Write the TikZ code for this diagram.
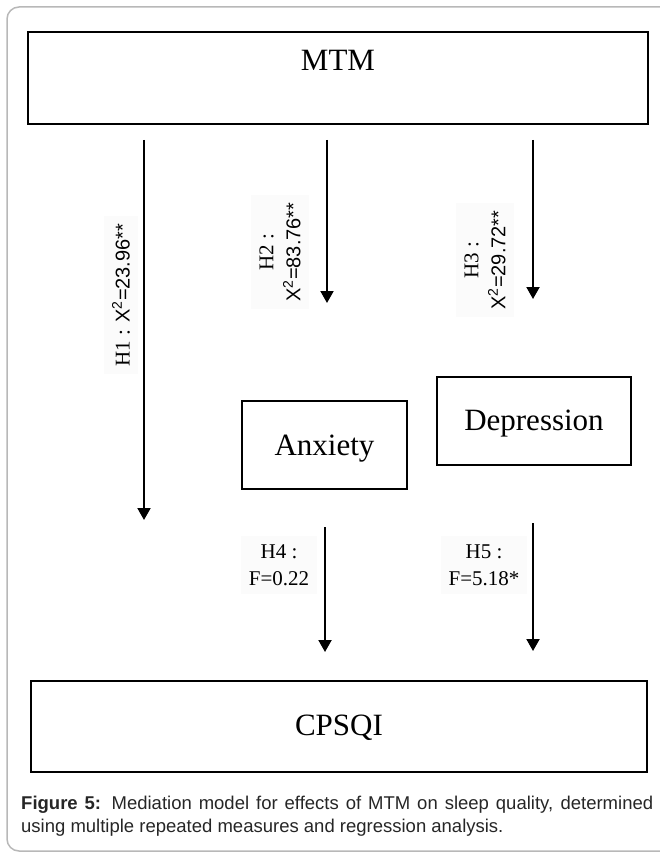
\documentclass[tikz,border=0pt]{standalone}
\usepackage{fontspec}
\setmainfont{Liberation Serif}
\setsansfont{Liberation Sans}
\usetikzlibrary{arrows.meta}

\tikzset{
  boxtext/.style={font=\fontsize{31}{36}\selectfont},
  hlabel/.style={fill=black!1.5, align=center, inner sep=8pt,
                 font=\fontsize{21}{27}\selectfont},
  hyp/.style={line width=2pt, -{Triangle[width=13pt,length=12pt]}},
}
\newcommand{\chisq}[1]{{\sffamily\fontsize{20}{27}\selectfont X\textsuperscript{2}=#1}}

\begin{document}
\begin{tikzpicture}[x=1pt, y=-1pt]
      \useasboundingbox (0,0) rectangle (660,853);
      \draw[black!28, line width=1.5pt, rounded corners=12pt] (7,7) rectangle (680,851);
      % boxes
      \draw[line width=1.5pt] (28,32) rectangle (648,124)
            (242,401) rectangle (407,489)
            (437,377) rectangle (631,465)
            (31,681) rectangle (647,772);
      \node[boxtext] (mtm) at (338,60) {MTM};
      \node[boxtext] (anx) at (324.5,449) {Anxiety};
      \node[boxtext] (dep) at (534,424) {Depression};
      \node[boxtext] (cpsqi) at (339,728) {CPSQI};
      % labels
      \node[hlabel, rotate=90] (h1) at (121,295) {H1 : \chisq{23.96**}};
      \node[hlabel, rotate=90] (h2) at (280,252) {H2 :\\ \chisq{83.76**}};
      \node[hlabel, rotate=90] (h3) at (485,260) {H3 :\\ \chisq{29.72**}};
      \node[hlabel] (h4) at (279,565) {H4 :\\ F=0.22};
      \node[hlabel] (h5) at (484,565) {H5 :\\ F=5.18*};
      % arrow ends
      \coordinate (h1s) at (144,140);  \coordinate (h1e) at (144,520);
      \coordinate (h2s) at (327,140);  \coordinate (h2e) at (327,303);
      \coordinate (h3s) at (533,140);  \coordinate (h3e) at (533,299);
      \coordinate (h4s) at (325,527);  \coordinate (h4e) at (325,652);
      \coordinate (h5s) at (533,523);  \coordinate (h5e) at (533,651);
      \path (h1s) edge[hyp] (h1e)
            (h2s) edge[hyp] (h2e)
            (h3s) edge[hyp] (h3e)
            (h4s) edge[hyp] (h4e)
            (h5s) edge[hyp] (h5e);
      \node[anchor=north west, inner sep=0pt, text width=632pt, align=justify,
            text=black!85, font=\sffamily\fontsize{18.5}{23}\selectfont] (cap) at (21,796)
            {\textbf{Figure 5:} Mediation model for effects of MTM on sleep quality, determined\linebreak
             using multiple repeated measures and regression analysis.};
\end{tikzpicture}
\end{document}
